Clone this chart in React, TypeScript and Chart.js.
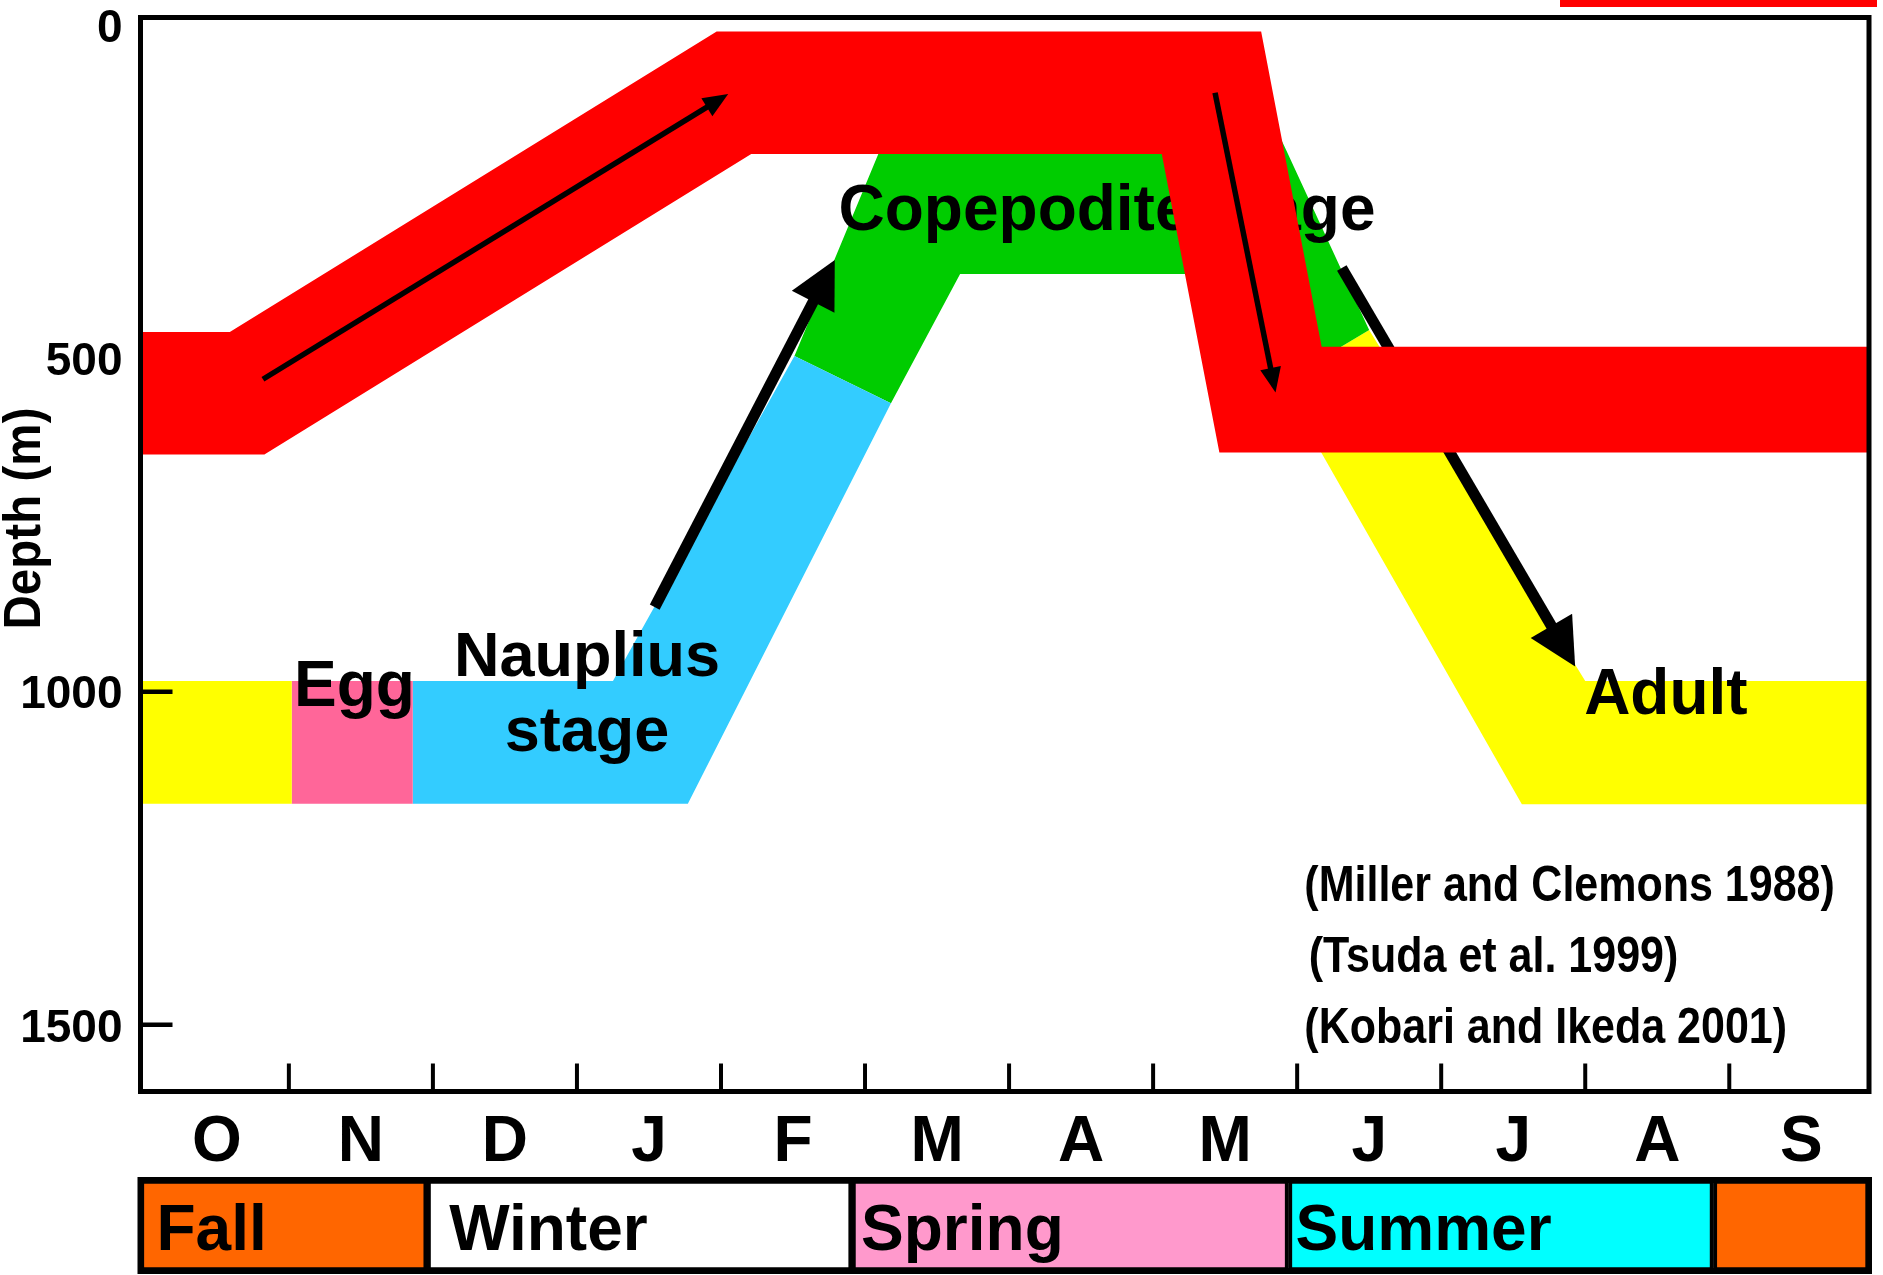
import React, { useEffect, useRef } from 'react';
import { Chart, registerables } from 'chart.js';

Chart.register(...registerables);

const FONT = "'Liberation Sans', Arial, Helvetica, sans-serif";
Chart.defaults.font.family = FONT;

// ---------- axes ----------
const monthLabels = ['O', 'N', 'D', 'J', 'F', 'M', 'A', 'M', 'J', 'J', 'A', 'S'];
const monthCenters = [0.5, 1.5, 2.5, 3.5, 4.5, 5.5, 6.5, 7.5, 8.5, 9.5, 10.5, 11.5];
const monthBoundaries = [1, 2, 3, 4, 5, 6, 7, 8, 9, 10, 11];
const depthTickValues = [0, 500, 1000, 1500];
const innerDepthTicks = [500, 1000, 1500];
const xMin = -0.03;
const xMax = 11.97;
const depthMin = -12;
const depthMax = 1600;

// ---------- bands: [month, depth (m)] ----------
const redBand: [number, number][] = [
  [-0.03, 460], [0.59, 460], [3.97, 9], [7.75, 9], [8.17, 482], [11.97, 482],
  [11.97, 641], [7.46, 641], [7.06, 193], [4.21, 193], [0.83, 644], [-0.03, 644],
];
const adultLeftBand: [number, number][] = [[-0.03, 984], [1.02, 984], [1.02, 1168], [-0.03, 1168]];
const eggBand: [number, number][] = [[1.02, 984], [1.86, 984], [1.86, 1168], [1.02, 1168]];
const naupliusBand: [number, number][] = [
  [1.86, 984], [3.25, 984], [4.51, 496], [5.18, 567], [3.77, 1168], [1.86, 1168],
];
const copepoditeBand: [number, number][] = [
  [4.51, 496], [5.09, 194], [5.24, 112], [7.76, 112], [7.93, 190], [8.5, 457],
  [7.89, 536], [7.47, 373], [5.66, 373], [5.18, 567],
];
const adultRightBand: [number, number][] = [
  [8.5, 457], [10.0, 984], [11.97, 984], [11.97, 1169], [9.56, 1169], [7.89, 536],
];

// ---------- arrows: [month, depth] ----------
const thickArrowFrom: [number, number][] = [[3.54, 873], [8.31, 364]];
const thickArrowTo: [number, number][] = [[4.79, 352], [9.93, 962]];
const thinArrowFrom: [number, number][] = [[0.82, 531], [7.43, 101]];
const thinArrowTo: [number, number][] = [[4.05, 103], [7.85, 551]];

// ---------- labels ----------
const stageTexts = ['Copepodite stage', 'Egg', 'Nauplius', 'stage', 'Adult'];
const stageTextX = [6.68, 1.455, 3.07, 3.07, 10.56];
const stageTextY = [307, 1022, 977, 1089, 1034];
const citationTexts = ['(Miller and Clemons 1988)', '(Tsuda et al. 1999)', '(Kobari and Ikeda 2001)'];
const citationX = [8.05, 8.08, 8.05];
const citationY = [1314, 1421, 1527];

// ---------- seasons ----------
const seasonNames = ['Fall', 'Winter', 'Spring', 'Summer', ''];
const seasonStart = [-0.03, 1.96, 4.91, 7.94, 10.89];
const seasonEnd = [1.96, 4.91, 7.94, 10.89, 11.97];

// ---------- styles ----------
const RED = '#FF0000';
const YELLOW = '#FFFF00';
const EGG_PINK = '#FF6699';
const BLUE = '#33CCFF';
const GREEN = '#00CC00';
const seasonColors = ['#FF6600', '#FFFFFF', '#FF99CC', '#00FFFF', '#FF6600'];
const seasonLabelPad = [16, 22, 9, 7, 0];

function drawText(ctx: CanvasRenderingContext2D, text: string, x: number, y: number, size: number, align: CanvasTextAlign, scaleX = 1) {
  ctx.save();
  ctx.font = `bold ${size}px ${FONT}`;
  ctx.fillStyle = '#000';
  ctx.textAlign = align;
  ctx.textBaseline = 'alphabetic';
  ctx.translate(x, y);
  ctx.scale(scaleX, 1);
  ctx.fillText(text, 0, 0);
  ctx.restore();
}

function drawArrow(ctx: CanvasRenderingContext2D, x1: number, y1: number, x2: number, y2: number, shaft: number, headLen: number, headW: number) {
  const dx = x2 - x1;
  const dy = y2 - y1;
  const L = Math.hypot(dx, dy);
  const ux = dx / L;
  const uy = dy / L;
  const px = -uy;
  const py = ux;
  const bx = x2 - ux * headLen;
  const by = y2 - uy * headLen;
  ctx.save();
  ctx.strokeStyle = '#000';
  ctx.fillStyle = '#000';
  ctx.lineWidth = shaft;
  ctx.lineCap = 'butt';
  ctx.beginPath();
  ctx.moveTo(x1, y1);
  ctx.lineTo(bx + ux * 2, by + uy * 2);
  ctx.stroke();
  ctx.beginPath();
  ctx.moveTo(x2, y2);
  ctx.lineTo(bx + px * headW / 2, by + py * headW / 2);
  ctx.lineTo(bx - px * headW / 2, by - py * headW / 2);
  ctx.closePath();
  ctx.fill();
  ctx.restore();
}

function polyDataset(label: string, pts: [number, number][], color: string) {
  return {
    type: 'line' as const,
    label,
    data: pts.map(([x, y]) => ({ x, y })),
    backgroundColor: color,
    borderColor: 'rgba(0,0,0,0)',
    borderWidth: 0,
    pointRadius: 0,
    pointHoverRadius: 0,
    showLine: true,
    tension: 0,
    fill: 'shape' as any,
  };
}

export default function App() {
  const mainRef = useRef<HTMLCanvasElement>(null);
  const seasonRef = useRef<HTMLCanvasElement>(null);

  useEffect(() => {
    const annotations = {
      id: 'annotations',
      afterDatasetDraw(chart: any, args: any) {
        if (args.index !== 1) return; // last band drawn before the red band
        const ctx: CanvasRenderingContext2D = chart.ctx;
        const xs = chart.scales.x;
        const ys = chart.scales.y;
        const area = chart.chartArea;
        // inward tick marks
        ctx.save();
        ctx.strokeStyle = '#000';
        ctx.lineWidth = 4.5;
        innerDepthTicks.forEach((v) => {
          const y = ys.getPixelForValue(v);
          ctx.beginPath();
          ctx.moveTo(area.left, y);
          ctx.lineTo(area.left + 32, y);
          ctx.stroke();
        });
        ctx.lineWidth = 4;
        monthBoundaries.forEach((v) => {
          const x = xs.getPixelForValue(v);
          ctx.beginPath();
          ctx.moveTo(x, area.bottom);
          ctx.lineTo(x, area.bottom - 28);
          ctx.stroke();
        });
        ctx.restore();
        // stage labels
        stageTexts.forEach((t, i) => {
          const size = t === 'Nauplius' || t === 'stage' ? 63 : 64;
          drawText(ctx, t, xs.getPixelForValue(stageTextX[i]), ys.getPixelForValue(stageTextY[i]), size, 'center');
        });
        citationTexts.forEach((t, i) => {
          drawText(ctx, t, xs.getPixelForValue(citationX[i]), ys.getPixelForValue(citationY[i]), 50, 'left', 0.86);
        });
        // thick arrows (under the red band)
        thickArrowFrom.forEach((f, i) => {
          const t = thickArrowTo[i];
          drawArrow(ctx, xs.getPixelForValue(f[0]), ys.getPixelForValue(f[1]), xs.getPixelForValue(t[0]), ys.getPixelForValue(t[1]), 11, 47, 48);
        });
      },
      afterDatasetsDraw(chart: any) {
        const ctx: CanvasRenderingContext2D = chart.ctx;
        const xs = chart.scales.x;
        const ys = chart.scales.y;
        const area = chart.chartArea;
        thinArrowFrom.forEach((f, i) => {
          const t = thinArrowTo[i];
          drawArrow(ctx, xs.getPixelForValue(f[0]), ys.getPixelForValue(f[1]), xs.getPixelForValue(t[0]), ys.getPixelForValue(t[1]), 5.5, 25, 21);
        });
        ctx.save();
        ctx.strokeStyle = '#000';
        ctx.lineWidth = 5;
        ctx.lineJoin = 'miter';
        ctx.strokeRect(area.left, area.top, area.right - area.left, area.bottom - area.top);
        ctx.restore();
      },
      afterDraw(chart: any) {
        const ctx: CanvasRenderingContext2D = chart.ctx;
        const ys = chart.scales.y;
        const area = chart.chartArea;
        // axis title
        ctx.save();
        ctx.translate(40, ys.getPixelForValue(740));
        ctx.rotate(-Math.PI / 2);
        ctx.scale(0.915, 1);
        ctx.font = `bold 52px ${FONT}`;
        ctx.fillStyle = '#000';
        ctx.textAlign = 'center';
        ctx.textBaseline = 'alphabetic';
        ctx.fillText('Depth (m)', 0, 0);
        ctx.restore();
        // cropped red legend sample at the top right
        ctx.save();
        ctx.fillStyle = RED;
        ctx.fillRect(area.right - 309, 0, 317, 7);
        ctx.restore();
      },
    };

    const main = new Chart(mainRef.current!, {
      type: 'line',
      data: {
        datasets: [
          polyDataset('Red', redBand, RED),
          polyDataset('AdultLeft', adultLeftBand, YELLOW),
          polyDataset('Egg', eggBand, EGG_PINK),
          polyDataset('Nauplius', naupliusBand, BLUE),
          polyDataset('Copepodite', copepoditeBand, GREEN),
          polyDataset('AdultRight', adultRightBand, YELLOW),
        ] as any,
      },
      options: {
        responsive: false,
        animation: false,
        devicePixelRatio: 1,
        events: [],
        layout: { padding: { top: 17.5, right: 14, left: 0, bottom: 0 } },
        plugins: { legend: { display: false }, tooltip: { enabled: false } },
        scales: {
          x: {
            type: 'linear',
            min: xMin,
            max: xMax,
            grid: { display: false, drawTicks: false },
            border: { display: false },
            afterBuildTicks: (scale: any) => {
              scale.ticks = monthCenters.map((v) => ({ value: v }));
            },
            afterFit: (scale: any) => {
              scale.height = 82.5;
              scale.paddingLeft = 0;
              scale.paddingRight = 0;
            },
            ticks: {
              autoSkip: false,
              maxRotation: 0,
              minRotation: 0,
              padding: 13,
              color: '#000',
              font: { size: 64, weight: 'bold', family: FONT },
              callback: (_v: any, i: number) => monthLabels[i],
            },
          },
          y: {
            type: 'linear',
            reverse: true,
            min: depthMin,
            max: depthMax,
            grid: { display: false, drawTicks: false },
            border: { display: false },
            afterBuildTicks: (scale: any) => {
              scale.ticks = depthTickValues.map((v) => ({ value: v }));
            },
            afterFit: (scale: any) => {
              scale.width = 140.5;
              scale.paddingTop = 0;
              scale.paddingBottom = 0;
            },
            ticks: {
              padding: 18,
              labelOffset: 4,
              color: '#000',
              font: { size: 46, weight: 'bold', family: FONT },
              callback: (v: any) => String(v),
            },
          },
        },
      } as any,
      plugins: [annotations],
    });

    const seasonPlugin = {
      id: 'seasonLabels',
      afterDatasetsDraw(chart: any) {
        const ctx: CanvasRenderingContext2D = chart.ctx;
        const xs = chart.scales.x;
        const area = chart.chartArea;
        ctx.save();
        ctx.strokeStyle = '#000';
        ctx.lineWidth = 6;
        ctx.strokeRect(area.left, area.top, area.right - area.left, area.bottom - area.top);
        ctx.restore();
        seasonNames.forEach((n, i) => {
          if (!n) return;
          drawText(ctx, n, xs.getPixelForValue(seasonStart[i]) + seasonLabelPad[i], 76, 64, 'left');
        });
      },
    };

    const season = new Chart(seasonRef.current!, {
      type: 'bar',
      data: {
        labels: ['Season'],
        datasets: seasonNames.map((n, i) => ({
          label: n || 'Fall (Sep)',
          data: [[seasonStart[i], seasonEnd[i]]],
          backgroundColor: seasonColors[i],
          borderColor: '#000',
          borderWidth: 4,
          borderSkipped: false,
          grouped: false,
          barPercentage: 1,
          categoryPercentage: 1,
        })) as any,
      },
      options: {
        indexAxis: 'y',
        responsive: false,
        animation: false,
        devicePixelRatio: 1,
        events: [],
        layout: { padding: { top: 6, bottom: 4, left: 140.5, right: 14 } },
        plugins: { legend: { display: false }, tooltip: { enabled: false } },
        scales: {
          x: { type: 'linear', min: xMin, max: xMax, display: false },
          y: { type: 'category', display: false },
        },
      } as any,
      plugins: [seasonPlugin],
    });

    return () => {
      main.destroy();
      season.destroy();
    };
  }, []);

  return (
    <div style={{ position: 'absolute', left: 0, top: 0, width: 1883, height: 1275, background: '#fff' }}>
      <canvas ref={mainRef} width={1883} height={1174} style={{ position: 'absolute', left: 0, top: 0, width: 1883, height: 1174 }} />
      <canvas ref={seasonRef} width={1883} height={101} style={{ position: 'absolute', left: 0, top: 1174, width: 1883, height: 101 }} />
    </div>
  );
}
